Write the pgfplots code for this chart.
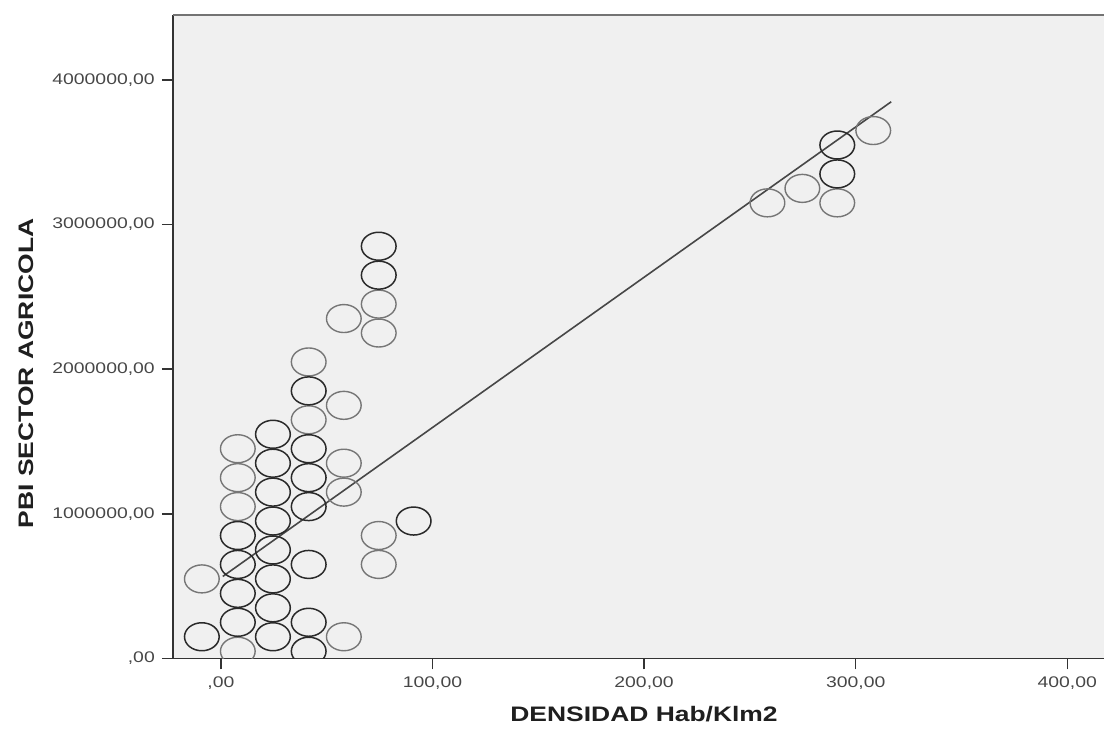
\documentclass[border=0pt]{standalone}
\usepackage{fontspec}
\setmainfont[FakeStretch=1.26]{Liberation Sans}
\usepackage{pgfplots}
\pgfplotsset{compat=1.18}
\definecolor{bg}{HTML}{F0F0F0}
\definecolor{lightc}{HTML}{767676}
\definecolor{darkc}{HTML}{2A2A2A}
\begin{document}
\begin{tikzpicture}
\begin{axis}[
 name=ax,
 scale only axis, width=466pt, height=322pt,
 xmin=-22.7, xmax=417.4, ymin=0, ymax=4449000,
 axis x line*=bottom, axis y line*=left,
 axis line style={black!80, line width=0.75pt},
 axis background/.style={fill=bg},
 tick align=outside, major tick length=5.5pt,
 tick style={black!80, line width=0.75pt},
 xtick={0,100,200,300,400},
 xticklabels={{,00},{100,00},{200,00},{300,00},{400,00}},
 ytick={0,1000000,2000000,3000000,4000000},
 yticklabels={{,00},{1000000,00},{2000000,00},{3000000,00},{4000000,00}},
 scaled y ticks=false,
 ticklabel style={font=\fontsize{7.7}{9}\selectfont, text=black!72},
 xlabel={DENSIDAD Hab/Klm2}, ylabel={PBI SECTOR AGRICOLA},
 label style={font=\fontsize{10.5}{12}\selectfont\bfseries, text=black!88},
 xlabel style={at={(axis description cs:0.506,-0.087)}, anchor=center},
 ylabel style={at={(axis description cs:-0.1577,0.443)}, anchor=center},
 clip marker paths=true,
]
\addplot[no markers, color=black!72, line width=0.8pt] coordinates {(0.9,567000) (316.8,3849000)};
\addplot[only marks, mark=o, mark size=7pt, mark options={xscale=1.24, draw=lightc, line width=0.7pt}] coordinates {
(-9,550000)
(8,1450000)(8,1250000)(8,1050000)(8,50000)
(41.5,2050000)(41.5,1650000)
(58.1,2350000)(58.1,1750000)(58.1,1350000)(58.1,1150000)(58.1,150000)
(74.6,2450000)(74.6,2250000)(74.6,850000)(74.6,650000)
(258.3,3150000)(274.8,3250000)(291.3,3150000)(308.3,3650000)
};
\addplot[only marks, mark=o, mark size=7pt, mark options={xscale=1.24, draw=darkc, line width=0.75pt}] coordinates {
(-9,150000)
(8,850000)(8,650000)(8,450000)(8,250000)
(24.6,1550000)(24.6,1350000)(24.6,1150000)(24.6,950000)(24.6,750000)(24.6,550000)(24.6,350000)(24.6,150000)
(41.5,1850000)(41.5,1450000)(41.5,1250000)(41.5,1050000)(41.5,650000)(41.5,250000)(41.5,50000)
(74.6,2850000)(74.6,2650000)
(91.1,950000)
(291.3,3350000)(291.3,3550000)
};
\end{axis}
\draw[black!55, line width=0.9pt] (ax.north west) -- (ax.north east);
\path ([xshift=-86.5pt,yshift=-32.5pt]ax.south west) rectangle ([yshift=7.5pt]ax.north east);
\end{tikzpicture}
\end{document}
